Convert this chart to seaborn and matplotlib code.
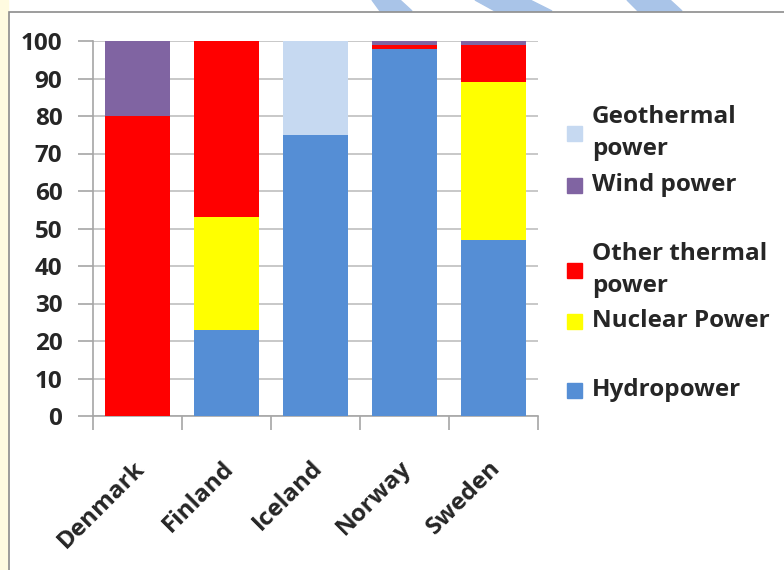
import numpy as np
import pandas as pd
import matplotlib.pyplot as plt
import matplotlib.patches as mpatches
from matplotlib.ticker import FixedLocator
from matplotlib.transforms import ScaledTranslation
import seaborn as sns

countries = ["Denmark", "Finland", "Iceland", "Norway", "Sweden"]
hydro = [0, 23, 75, 98, 47]
nuclear = [0, 30, 0, 0, 42]
other_thermal = [80, 47, 0, 1, 10]
wind = [20, 0, 0, 1, 1]
geothermal = [0, 0, 25, 0, 0]

# bottom -> top of the stack
series_names = ["Hydropower", "Nuclear Power", "Other thermal\npower", "Wind power", "Geothermal\npower"]
series_values = [hydro, nuclear, other_thermal, wind, geothermal]
colors = ["#558ED5", "#FFFF00", "#FF0000", "#8064A2", "#C6D9F1"]

sns.set_style("white")
plt.rcParams["font.family"] = ["Open Sans", "DejaVu Sans"]
plt.rcParams["font.weight"] = "bold"
FS = 17.5

df = pd.DataFrame(np.array(series_values).T, columns=series_names)
df["country"] = countries
cum = df[series_names].cumsum(axis=1)

fig = plt.figure(figsize=(7.84, 5.7), dpi=100)

# decorative page background: pale strip on the left and blue stripes on top
fig.patches.append(mpatches.Rectangle((0, 0), 8 / 784, 1, transform=fig.transFigure,
                                      color="#FFFBE0", zorder=0))
for x0, x1, x2, x3 in [(372, 400, 412, 380), (475, 530, 552, 495), (627, 670, 682, 638)]:
    fig.patches.append(mpatches.Polygon(
        [(x0 / 784, 1), (x1 / 784, 1), (x2 / 784, 1 - 11 / 570), (x3 / 784, 1 - 11 / 570)],
        closed=True, transform=fig.transFigure, color="#A9C4E8", zorder=0))
fig.patches.append(mpatches.Rectangle((8.5 / 784, -0.01), 1, 1 - 11.5 / 570 + 0.01,
                                      transform=fig.transFigure, fill=False,
                                      edgecolor="#8C8C8C", linewidth=1.2, zorder=1))

ax = fig.add_axes([93 / 784, 154 / 570, 445 / 784, 375 / 570])

# draw cumulative totals from the top layer down so each layer covers the one above
for name, color in reversed(list(zip(series_names, colors))):
    sns.barplot(x=df["country"], y=cum[name], color=color, width=0.72,
                saturation=1, edgecolor="none", linewidth=0, ax=ax, zorder=3)

ax.set_xlim(-0.5, 4.5)
ax.set_ylim(0, 100)
ax.set_yticks(range(0, 101, 10))
ax.yaxis.grid(True, color="#BFBFBF", linewidth=1.2, zorder=0)
ax.set_axisbelow(True)
ax.set_xlabel("")
ax.set_ylabel("")
for s in ["top", "right"]:
    ax.spines[s].set_visible(False)
for s in ["left", "bottom"]:
    ax.spines[s].set_color("#A6A6A6")
    ax.spines[s].set_linewidth(1.2)
ax.tick_params(which="both", left=True, bottom=True)
ax.tick_params(axis="y", length=11, color="#A6A6A6", width=1.2, labelsize=FS, pad=11)
ax.tick_params(axis="x", which="major", length=0, labelsize=FS, pad=29)
ax.xaxis.set_minor_locator(FixedLocator(np.arange(-0.5, 5, 1)))
ax.tick_params(axis="x", which="minor", length=10, color="#A6A6A6", width=1.2)
for lab in ax.get_yticklabels():
    lab.set_fontweight("bold")
shift = ScaledTranslation(-5 / 100, 0, fig.dpi_scale_trans)
for lab in ax.get_xticklabels():
    lab.set_rotation(45)
    lab.set_ha("right")
    lab.set_rotation_mode("anchor")
    lab.set_fontweight("bold")
    lab.set_transform(lab.get_transform() + shift)

# legend (Excel-like uneven spacing)
legend_y = [133, 185, 270, 321, 390]
for name, color, y in zip(reversed(series_names), reversed(colors), legend_y):
    fig.patches.append(mpatches.Rectangle((567 / 784, 1 - (y + 8) / 570), 15 / 784, 15 / 570,
                                          transform=fig.transFigure, color=color))
    fig.text(592 / 784, 1 - y / 570, name, ha="left", va="center", fontsize=FS,
             fontweight="bold", linespacing=1.4)

fig.savefig("out.png", dpi=100)
